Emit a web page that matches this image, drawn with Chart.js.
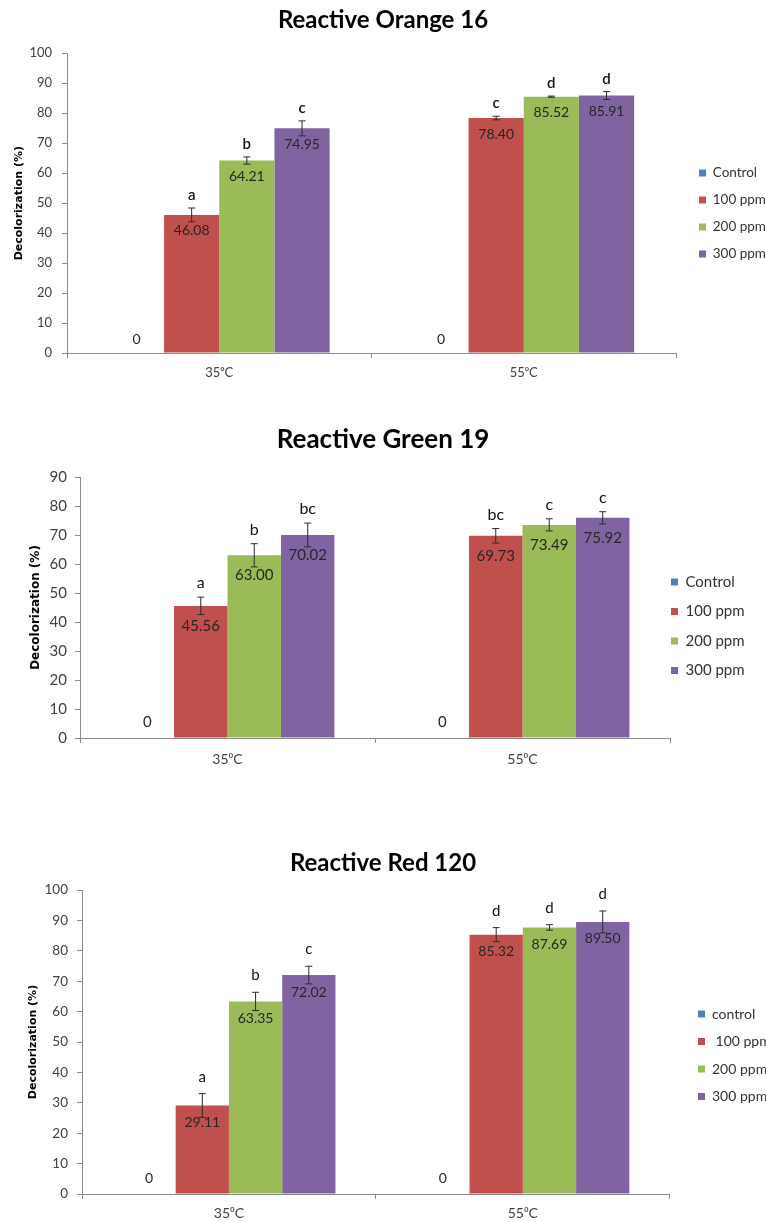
<!DOCTYPE html>
<html>
<head>
<meta charset="utf-8">
<script src="https://cdn.jsdelivr.net/npm/chart.js@4.4.1/dist/chart.umd.min.js"></script>
<style>
  body { margin: 0; background: #fff; width: 766px; height: 1222px; position: relative; overflow: hidden; }
  canvas { position: absolute; left: 0; }
</style>
</head>
<body>
<canvas id="orangeChart" width="766" height="390" style="top:0"></canvas>
<canvas id="greenChart" width="766" height="415" style="top:390px"></canvas>
<canvas id="redChart" width="766" height="417" style="top:805px"></canvas>
<script>
// Kategoriler ve seriler
const categories = ['35⁰C', '55⁰C'];
const seriesNames = ['Control', '100 ppm', '200 ppm', '300 ppm'];
const seriesNamesRed = ['control', ' 100 ppm', '200 ppm', '300 ppm'];
const seriesColors = ['#4F81BD', '#C0504D', '#9BBB59', '#8064A2'];

// Reactive Orange 16
const orangeControl = [0, 0];
const orange100 = [46.08, 78.40];
const orange200 = [64.21, 85.52];
const orange300 = [74.95, 85.91];
const orangeErr100 = [2.3, 0.6];
const orangeErr200 = [1.2, 0.2];
const orangeErr300 = [2.5, 1.3];
const orangeLet100 = ['a', 'c'];
const orangeLet200 = ['b', 'd'];
const orangeLet300 = ['c', 'd'];
const orangeYMax = 100;

// Reactive Green 19
const greenControl = [0, 0];
const green100 = [45.56, 69.73];
const green200 = [63.00, 73.49];
const green300 = [70.02, 75.92];
const greenErr100 = [3.0, 2.5];
const greenErr200 = [4.0, 2.1];
const greenErr300 = [4.1, 2.1];
const greenLet100 = ['a', 'bc'];
const greenLet200 = ['b', 'c'];
const greenLet300 = ['bc', 'c'];
const greenYMax = 90;

// Reactive Red 120
const redControl = [0, 0];
const red100 = [29.11, 85.32];
const red200 = [63.35, 87.69];
const red300 = [72.02, 89.50];
const redErr100 = [3.9, 2.3];
const redErr200 = [3.0, 0.9];
const redErr300 = [2.9, 3.6];
const redLet100 = ['a', 'd'];
const redLet200 = ['b', 'd'];
const redLet300 = ['c', 'd'];
const redYMax = 100;

const FONT = "Lato, 'DejaVu Sans', sans-serif";
Chart.defaults.font.family = FONT;
Chart.defaults.color = '#333';

// Hata çubukları, değer etiketleri, harfler ve lejant konumu
const barExtras = {
    id: 'barExtras',
    afterLayout(chart, args, opts) {
        const lg = chart.legend;
        if (!lg || !lg.columnSizes || !lg.columnSizes.length) return;
        const pad = lg.options.labels.padding;
        const dx = opts.legendX - (lg.left + pad);
        lg.left += dx; lg.right += dx;
        const curY = (lg.top + pad + lg.bottom - lg.columnSizes[0].height) / 2;
        const dy = opts.legendY - (curY + opts.legendFont / 2);
        lg.top += dy; lg.bottom += dy;
    },
    afterDatasetsDraw(chart, args, opts) {
        const ctx = chart.ctx;
        const yScale = chart.scales.y;
        ctx.save();
        chart.data.datasets.forEach((ds, di) => {
            const meta = chart.getDatasetMeta(di);
            meta.data.forEach((bar, i) => {
                const v = ds.data[i];
                const e = ds.errors ? ds.errors[i] : 0;
                const top = yScale.getPixelForValue(v + e);
                if (e) {
                    const bot = yScale.getPixelForValue(v - e);
                    ctx.strokeStyle = '#2b2b2b';
                    ctx.lineWidth = 1;
                    ctx.beginPath();
                    ctx.moveTo(bar.x, top); ctx.lineTo(bar.x, bot);
                    ctx.moveTo(bar.x - 3.5, top); ctx.lineTo(bar.x + 3.5, top);
                    ctx.moveTo(bar.x - 3.5, bot); ctx.lineTo(bar.x + 3.5, bot);
                    ctx.stroke();
                }
                ctx.fillStyle = '#262626';
                ctx.textAlign = 'center';
                ctx.textBaseline = 'middle';
                ctx.font = opts.valueSize + 'px ' + FONT;
                const ly = v === 0 ? yScale.getPixelForValue(0) - opts.zeroLift : bar.y + opts.valueDrop;
                ctx.fillText(v === 0 ? '0' : v.toFixed(2), bar.x, ly);
                if (ds.letters) {
                    ctx.fillStyle = '#111';
                    ctx.textBaseline = 'alphabetic';
                    ctx.font = opts.letterWeight + ' ' + opts.letterSize + 'px ' + FONT;
                    ctx.fillText(ds.letters[i], bar.x, top - opts.letterGap);
                }
            });
        });
        ctx.restore();
    }
};

function makeChart(id, cfg) {
    const ctx = document.getElementById(id).getContext('2d');
    return new Chart(ctx, {
        type: 'bar',
        data: {
            labels: categories,
            datasets: cfg.series.map((vals, k) => ({
                label: cfg.names[k],
                data: vals,
                errors: cfg.errors[k],
                letters: cfg.letters[k],
                backgroundColor: seriesColors[k],
                borderWidth: 0,
                categoryPercentage: 0.725,
                barPercentage: 1.0
            }))
        },
        options: {
            responsive: false,
            animation: false,
            devicePixelRatio: 1,
            layout: { padding: 0 },
            scales: {
                x: {
                    grid: { offset: true, drawOnChartArea: false, tickLength: 5, color: '#8c8c8c' },
                    border: { color: '#8c8c8c' },
                    ticks: { font: { size: cfg.xFont }, color: '#404040', padding: cfg.xPad },
                    afterFit: s => { s.height = cfg.xHeight; }
                },
                y: {
                    min: 0,
                    max: cfg.yMax,
                    ticks: { stepSize: 10, font: { size: cfg.yFont }, color: '#404040', padding: cfg.yPad },
                    grid: { drawOnChartArea: false, tickLength: 5, color: '#8c8c8c' },
                    border: { color: '#8c8c8c' },
                    title: {
                        display: true,
                        text: 'Decolorization (%)',
                        color: '#000',
                        font: { family: "'DejaVu Sans', sans-serif", weight: 'bold', size: cfg.yTitleSize },
                        padding: { top: cfg.yTitlePad, bottom: 0 }
                    },
                    afterFit: s => { s.width = cfg.yWidth; }
                }
            },
            plugins: {
                title: {
                    display: true,
                    text: cfg.title,
                    color: '#000',
                    font: { size: cfg.titleSize, weight: 'bold' },
                    padding: { top: cfg.titleTop, bottom: cfg.titleBottom }
                },
                legend: {
                    position: 'right',
                    maxWidth: cfg.legendWidth,
                    labels: {
                        boxWidth: 7,
                        boxHeight: 7,
                        padding: cfg.legendPad,
                        color: '#333',
                        font: { size: cfg.legendFont }
                    }
                },
                tooltip: { enabled: false },
                barExtras: {
                    legendX: cfg.legendX,
                    legendY: cfg.legendY,
                    legendFont: cfg.legendFont,
                    valueSize: cfg.valueSize,
                    valueDrop: cfg.valueDrop,
                    zeroLift: cfg.zeroLift,
                    letterSize: cfg.letterSize,
                    letterWeight: cfg.letterWeight,
                    letterGap: cfg.letterGap
                }
            }
        },
        plugins: [barExtras]
    });
}

// Reactive Orange 16
makeChart('orangeChart', {
    title: 'Reactive Orange 16', titleSize: 24, titleTop: 6, titleBottom: 18.5,
    names: seriesNames,
    series: [orangeControl, orange100, orange200, orange300],
    errors: [null, orangeErr100, orangeErr200, orangeErr300],
    letters: [null, orangeLet100, orangeLet200, orangeLet300],
    yMax: orangeYMax, yWidth: 67, yFont: 13, yPad: 10, yTitleSize: 11, yTitlePad: 12.4,
    xHeight: 37, xFont: 13, xPad: 7,
    legendWidth: 90, legendX: 699, legendY: 173, legendFont: 13.5, legendPad: 13.5,
    valueSize: 14, valueDrop: 16, zeroLift: 14, letterSize: 15, letterWeight: '600', letterGap: 8
});

// Reactive Green 19
makeChart('greenChart', {
    title: 'Reactive Green 19', titleSize: 26, titleTop: 34.4, titleBottom: 21.4,
    names: seriesNames,
    series: [greenControl, green100, green200, green300],
    errors: [null, greenErr100, greenErr200, greenErr300],
    letters: [null, greenLet100, greenLet200, greenLet300],
    yMax: greenYMax, yWidth: 80, yFont: 15, yPad: 8, yTitleSize: 12, yTitlePad: 28.8,
    xHeight: 67, xFont: 14, xPad: 8.5,
    legendWidth: 96, legendX: 671, legendY: 192, legendFont: 15, legendPad: 14.5,
    valueSize: 15, valueDrop: 20, zeroLift: 16, letterSize: 16, letterWeight: 'normal', letterGap: 9
});

// Reactive Red 120
makeChart('redChart', {
    title: 'Reactive Red 120', titleSize: 24, titleTop: 43.6, titleBottom: 12.6,
    names: seriesNamesRed,
    series: [redControl, red100, red200, red300],
    errors: [null, redErr100, redErr200, redErr300],
    letters: [null, redLet100, redLet200, redLet300],
    yMax: redYMax, yWidth: 82, yFont: 13.5, yPad: 9, yTitleSize: 11, yTitlePad: 26.4,
    xHeight: 28, xFont: 14, xPad: 6,
    legendWidth: 113, legendX: 698, legendY: 209, legendFont: 14, legendPad: 13.5,
    valueSize: 14, valueDrop: 17, zeroLift: 16, letterSize: 15, letterWeight: 'normal', letterGap: 12
});
</script>
</body>
</html>
